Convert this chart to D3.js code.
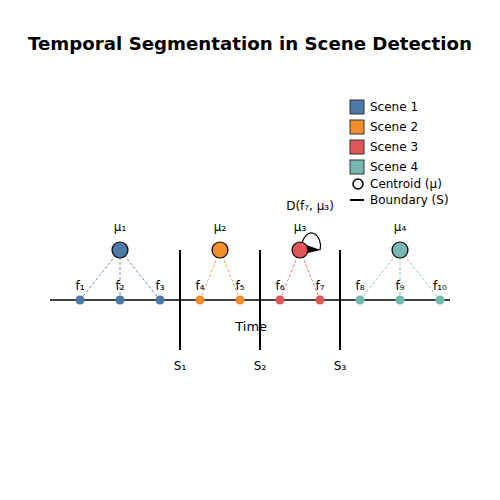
<!DOCTYPE html>
<html><head><meta charset="utf-8">
<script src="https://cdn.jsdelivr.net/npm/d3@7"></script>
<style>body{margin:0;background:#fff}text{font-family:"DejaVu Sans",sans-serif}</style>
</head><body><div id="chart"></div>
<script>
const sceneNames = ['Scene 1', 'Scene 2', 'Scene 3', 'Scene 4'];
const sceneColors = ['#4e79a7', '#f28e2b', '#e15759', '#76b7b2'];
const frameX = [1, 2, 3, 4, 5, 6, 7, 8, 9, 10];
const frameScene = [0, 0, 0, 1, 1, 2, 2, 3, 3, 3];
const frameLabels = ['f₁', 'f₂', 'f₃', 'f₄', 'f₅', 'f₆', 'f₇', 'f₈', 'f₉', 'f₁₀'];
const centroidX = [2, 4.5, 6.5, 9];
const centroidLabels = ['μ₁', 'μ₂', 'μ₃', 'μ₄'];
const boundaryX = [3.5, 5.5, 7.5];
const boundaryLabels = ['S₁', 'S₂', 'S₃'];

const W = 500, H = 500;
const svg = d3.select('#chart').append('svg').attr('width', W).attr('height', H);
const x = d3.scaleLinear().domain([0, 10]).range([40, 440]);
const y = d3.scaleLinear().domain([0, 1]).range([300, 250]);

svg.append('text').attr('x', 250).attr('y', 50).attr('text-anchor', 'middle')
  .style('font-size', '18.2px').style('font-weight', 'bold')
  .text('Temporal Segmentation in Scene Detection');

// time axis
svg.append('line').attr('x1', x(0.25)).attr('x2', x(10.25)).attr('y1', y(0)).attr('y2', y(0))
  .attr('stroke', '#000').attr('stroke-width', 1.5);
svg.append('text').attr('x', x(5.28)).attr('y', y(-0.52)).attr('text-anchor', 'middle')
  .attr('dy', '0.35em').style('font-size', '13px').text('Time');

// boundaries
boundaryX.forEach((b, i) => {
  svg.append('line').attr('x1', x(b)).attr('x2', x(b)).attr('y1', y(1)).attr('y2', y(-1))
    .attr('stroke', '#000').attr('stroke-width', 2);
  svg.append('text').attr('x', x(b)).attr('y', y(-1.32)).attr('text-anchor', 'middle')
    .attr('dy', '0.35em').style('font-size', '12px').text(boundaryLabels[i]);
});

// dashed links
frameX.forEach((fx, i) => {
  const s = frameScene[i];
  svg.append('line').attr('x1', x(fx)).attr('y1', y(0)).attr('x2', x(centroidX[s])).attr('y2', y(1))
    .attr('stroke', sceneColors[s]).attr('stroke-dasharray', '3,2').attr('stroke-width', 1).attr('opacity', 0.8);
});

// frames
frameX.forEach((fx, i) => {
  svg.append('circle').attr('cx', x(fx)).attr('cy', y(0)).attr('r', 4.5).attr('fill', sceneColors[frameScene[i]]);
  svg.append('text').attr('x', x(fx)).attr('y', y(0.28)).attr('text-anchor', 'middle')
    .attr('dy', '0.35em').style('font-size', '12px').text(frameLabels[i]);
});

// distance annotation arrow (loop from centroid back onto it)
const c3 = [x(centroidX[2]), y(1)];
svg.append('path')
  .attr('d', `M${c3[0]},${c3[1]} C${c3[0] + 6},${c3[1] - 30} ${c3[0] + 24},${c3[1] - 14} ${c3[0] + 20},${c3[1]}`)
  .attr('fill', 'none').attr('stroke', '#000').attr('stroke-width', 1.2);
svg.append('path')
  .attr('d', `M${c3[0] + 3},${c3[1] - 6} L${c3[0] + 21},${c3[1]} L${c3[0] + 3},${c3[1] + 4} Z`)
  .attr('fill', '#000');

// centroids
centroidX.forEach((cx, i) => {
  svg.append('circle').attr('cx', x(cx)).attr('cy', y(1)).attr('r', 8)
    .attr('fill', sceneColors[i]).attr('stroke', '#000').attr('stroke-width', 1.2);
  svg.append('text').attr('x', x(cx)).attr('y', y(1.46)).attr('text-anchor', 'middle')
    .attr('dy', '0.35em').style('font-size', '12px').text(centroidLabels[i]);
});
svg.append('text').attr('x', x(6.75)).attr('y', y(1.88)).attr('text-anchor', 'middle')
  .attr('dy', '0.35em').style('font-size', '12px').text('D(f₇, μ₃)');

// legend
const lg = svg.append('g').attr('transform', 'translate(350,100)');
sceneNames.forEach((n, i) => {
  lg.append('rect').attr('x', 0).attr('y', i * 20).attr('width', 14).attr('height', 14)
    .attr('fill', sceneColors[i]).attr('stroke', '#333').attr('stroke-width', 1);
  lg.append('text').attr('x', 20).attr('y', i * 20 + 7).attr('dy', '0.35em').style('font-size', '12px').text(n);
});
lg.append('circle').attr('cx', 8).attr('cy', 84).attr('r', 5).attr('fill', 'none').attr('stroke', '#000').attr('stroke-width', 1.5);
lg.append('text').attr('x', 20).attr('y', 84).attr('dy', '0.35em').style('font-size', '12px').text('Centroid (μ)');
lg.append('line').attr('x1', 0).attr('x2', 14).attr('y1', 100).attr('y2', 100).attr('stroke', '#000').attr('stroke-width', 2);
lg.append('text').attr('x', 20).attr('y', 100).attr('dy', '0.35em').style('font-size', '12px').text('Boundary (S)');
</script></body></html>
